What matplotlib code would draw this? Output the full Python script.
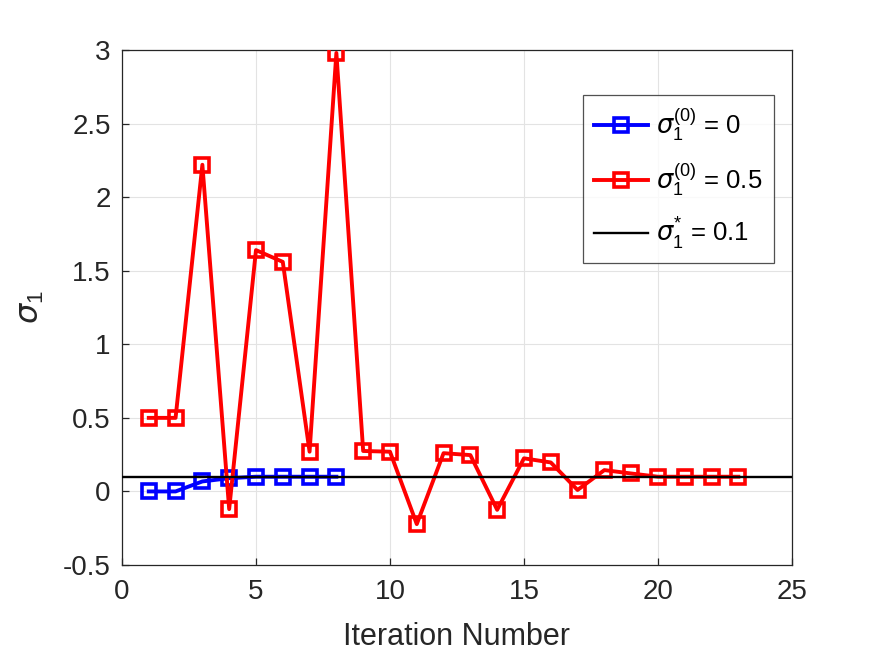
import numpy as np
import matplotlib.pyplot as plt

plt.rcParams['font.family'] = ['Liberation Sans', 'DejaVu Sans']
plt.rcParams['mathtext.fontset'] = 'custom'
plt.rcParams['mathtext.rm'] = 'Liberation Sans'
plt.rcParams['mathtext.it'] = 'DejaVu Sans:italic'

# values
iter_blue = np.arange(1, 9)
sigma_blue = [0, 0, 0.068, 0.09, 0.10, 0.10, 0.10, 0.10]
iter_red = np.arange(1, 24)
sigma_red = [0.5, 0.5, 2.22, -0.12, 1.64, 1.56, 0.27, 2.98, 0.275, 0.27,
             -0.222, 0.26, 0.247, -0.125, 0.225, 0.197, 0.01, 0.145, 0.122,
             0.10, 0.10, 0.10, 0.10]
sigma_star = 0.1

fig = plt.figure(figsize=(8.75, 6.56), dpi=100)
ax = fig.add_axes([0.1394, 0.1387, 0.7657, 0.7851])

ax.plot(iter_blue, sigma_blue, '-s', color='#0000ff', lw=2.8, ms=9.5,
        mfc='none', mew=2.6, label=r'$\sigma_1^{(0)}$ = 0', zorder=3)
ax.plot(iter_red, sigma_red, '-s', color='#ff0000', lw=2.8, ms=9.5,
        mfc='none', mew=2.6, label=r'$\sigma_1^{(0)}$ = 0.5', zorder=4)
ax.axhline(sigma_star, color='k', lw=1.7, label=r'$\sigma_1^{*}$ = 0.1', zorder=5)

ax.set_xlim(0, 25)
ax.set_ylim(-0.5, 3)
ax.set_xticks(np.arange(0, 26, 5))
ax.set_yticks(np.arange(-0.5, 3.01, 0.5))
ax.set_yticklabels(['-0.5', '0', '0.5', '1', '1.5', '2', '2.5', '3'])
ax.grid(True, color='#e3e3e3', lw=0.8)
ax.set_axisbelow(True)
for s in ax.spines.values():
    s.set_color('#262626')
    s.set_linewidth(0.9)
ax.tick_params(direction='in', labelsize=20, colors='#262626', length=5,
               width=0.9)
ax.tick_params(axis='x', pad=10)
ax.tick_params(axis='y', pad=8)
ax.set_xlabel('Iteration Number', fontsize=22, color='#262626', labelpad=12)
ax.set_ylabel(r'$\sigma_1$', fontsize=23, color='#262626', labelpad=12)

leg = ax.legend(loc='upper right', bbox_to_anchor=(0.973, 0.912), fontsize=18.5,
                frameon=True, fancybox=False, edgecolor='#262626',
                handlelength=2.1, handletextpad=0.3, borderpad=0.45,
                labelspacing=0.7, borderaxespad=0)
leg.get_frame().set_linewidth(0.9)

fig.savefig('out.png')
